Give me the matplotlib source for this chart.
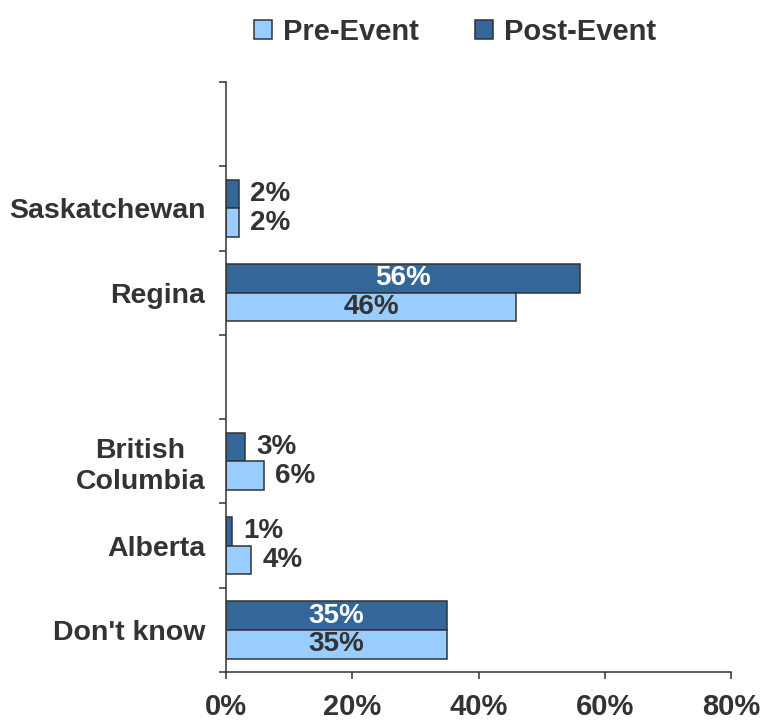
import matplotlib
matplotlib.use("Agg")
import matplotlib.pyplot as plt
import numpy as np

plt.rcParams['font.family'] = ['Liberation Sans', 'DejaVu Sans']
plt.rcParams['font.weight'] = 'bold'

# categories top to bottom (empty strings are spacer rows)
categories = ["", "Saskatchewan", "Regina", "", "British\nColumbia", "Alberta", "Don't know"]
pre_event = [None, 2, 46, None, 6, 4, 35]
post_event = [None, 2, 56, None, 3, 1, 35]
x_ticks = [0, 20, 40, 60, 80]

light = "#99CCFF"
dark = "#336699"
ink = "#333333"

fig = plt.figure(figsize=(7.61, 7.23), dpi=100)
ax = fig.add_axes([0.297, 0.0705, 0.9606 - 0.297, 0.8866 - 0.0705])

n = len(categories)
ypos = np.arange(n)[::-1]  # top row gets highest y
bh = 0.34

for y, pre, post in zip(ypos, pre_event, post_event):
    if pre is None:
        continue
    ax.barh(y + bh / 2, post, height=bh, color=dark, edgecolor=ink, linewidth=1.1)
    ax.barh(y - bh / 2, pre, height=bh, color=light, edgecolor=ink, linewidth=1.1)
    for val, yy, inside_col in ((post, y + bh / 2, "white"), (pre, y - bh / 2, ink)):
        if val > 20:
            ax.text(val / 2, yy, f"{val}%", ha="center", va="center",
                    color=inside_col, fontsize=20, fontweight="bold")
        else:
            ax.annotate(f"{val}%", (val, yy), xytext=(8, 0), textcoords="offset points",
                        ha="left", va="center", color=ink, fontsize=20, fontweight="bold")

ax.set_xlim(0, 80)
ax.set_ylim(-0.5, n - 0.5)
ax.set_xticks(x_ticks)
ax.set_xticklabels([f"{v}%" for v in x_ticks])
ax.set_yticks(ypos)
ax.set_yticklabels(categories)
ax.set_yticks(np.arange(n + 1) - 0.5, minor=True)
for t in ax.get_yticklabels():
    t.set_multialignment("center")
    t.set_linespacing(1.25)

ax.tick_params(axis="y", which="major", length=0, pad=15, labelsize=20.5, labelcolor=ink)
ax.tick_params(axis="y", which="minor", length=5, width=1.1, color=ink, direction="out")
ax.tick_params(axis="x", length=5, width=1.1, color=ink, pad=10, labelsize=21, labelcolor=ink)

for s in ("top", "right"):
    ax.spines[s].set_visible(False)
for s in ("left", "bottom"):
    ax.spines[s].set_color(ink)
    ax.spines[s].set_linewidth(1.1)

h_pre = plt.Rectangle((0, 0), 1, 1, facecolor=light, edgecolor=ink, linewidth=1.1)
h_post = plt.Rectangle((0, 0), 1, 1, facecolor=dark, edgecolor=ink, linewidth=1.1)
leg = fig.legend([h_pre, h_post], ["Pre-Event", "Post-Event"], loc="upper center",
                 bbox_to_anchor=(0.598, 1.0), ncol=2, frameon=False, fontsize=21,
                 handlelength=0.62, handleheight=0.62, handletextpad=0.4,
                 columnspacing=1.9, borderaxespad=0.2)
for t in leg.get_texts():
    t.set_color(ink)
    t.set_fontweight("bold")

fig.savefig("out.png", dpi=100)
